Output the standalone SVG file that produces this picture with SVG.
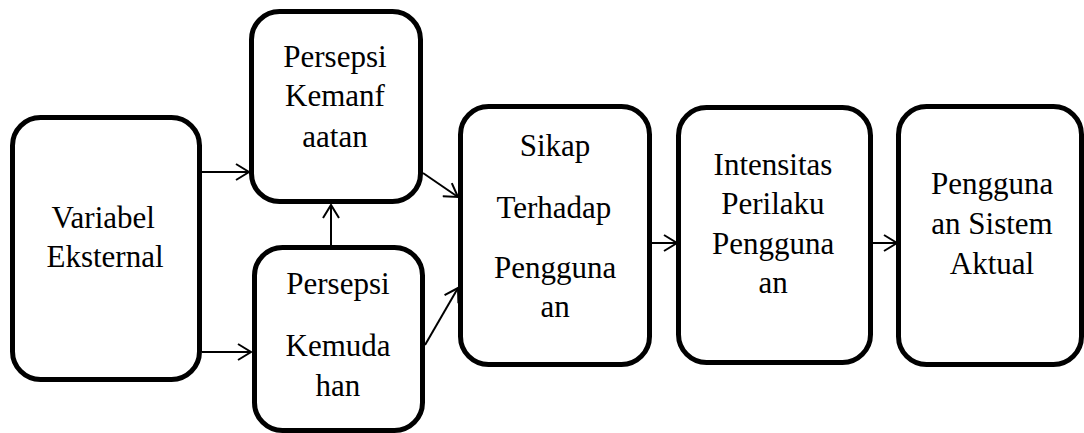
<svg xmlns="http://www.w3.org/2000/svg" width="1084" height="433" viewBox="0 0 1084 433">
<defs>
<marker id="ah" markerUnits="userSpaceOnUse" markerWidth="16" markerHeight="18" refX="14" refY="9" orient="auto">
<path d="M1,1 L14,9 L1,17" fill="none" stroke="#000" stroke-width="2"/>
</marker>
</defs>
<rect width="1084" height="433" fill="#fff"/>
<g id="connectors" stroke="#000" stroke-width="2" fill="none" marker-end="url(#ah)">
<line x1="202" y1="172" x2="249" y2="172"/>
<line x1="202" y1="352" x2="251" y2="352"/>
<line x1="331" y1="245" x2="331" y2="205"/>
<line x1="423" y1="173" x2="458" y2="197"/>
<line x1="425" y1="345" x2="458" y2="288"/>
<line x1="652" y1="243" x2="677" y2="243"/>
<line x1="873" y1="243" x2="897" y2="243"/>
</g>
<g id="n1">
<rect x="12.5" y="117.5" width="187" height="262" rx="28" fill="#fff" stroke="#000" stroke-width="5"/>
<text x="51.6" y="228" font-family="Liberation Serif" font-size="31">Variabel</text>
<text x="46.5" y="267" font-family="Liberation Serif" font-size="31">Eksternal</text>
</g>
<g id="n2">
<rect x="251.5" y="11.5" width="169" height="190" rx="28" fill="#fff" stroke="#000" stroke-width="5"/>
<text x="283.3" y="67" font-family="Liberation Serif" font-size="31">Persepsi</text>
<text x="285.1" y="106" font-family="Liberation Serif" font-size="31">Kemanf</text>
<text x="302.3" y="147" font-family="Liberation Serif" font-size="31">aatan</text>
</g>
<g id="n3">
<rect x="254.5" y="247.5" width="168" height="183" rx="28" fill="#fff" stroke="#000" stroke-width="5"/>
<text x="286.3" y="294" font-family="Liberation Serif" font-size="31">Persepsi</text>
<text x="285.5" y="356" font-family="Liberation Serif" font-size="31">Kemuda</text>
<text x="315.6" y="396" font-family="Liberation Serif" font-size="31">han</text>
</g>
<g id="n4">
<rect x="460.5" y="106.5" width="189" height="258" rx="28" fill="#fff" stroke="#000" stroke-width="5"/>
<text x="519.7" y="156" font-family="Liberation Serif" font-size="31">Sikap</text>
<text x="496.5" y="218" font-family="Liberation Serif" font-size="31">Terhadap</text>
<text x="493.9" y="278" font-family="Liberation Serif" font-size="31">Pengguna</text>
<text x="540.4" y="317" font-family="Liberation Serif" font-size="31">an</text>
</g>
<g id="n5">
<rect x="678.5" y="107.5" width="192" height="255" rx="28" fill="#fff" stroke="#000" stroke-width="5"/>
<text x="713.6" y="175" font-family="Liberation Serif" font-size="31">Intensitas</text>
<text x="721.3" y="214" font-family="Liberation Serif" font-size="31">Perilaku</text>
<text x="711.9" y="254" font-family="Liberation Serif" font-size="31">Pengguna</text>
<text x="758.4" y="293" font-family="Liberation Serif" font-size="31">an</text>
</g>
<g id="n6">
<rect x="898.5" y="106.5" width="183" height="258" rx="28" fill="#fff" stroke="#000" stroke-width="5"/>
<text x="930.9" y="194" font-family="Liberation Serif" font-size="31">Pengguna</text>
<text x="931.3" y="234" font-family="Liberation Serif" font-size="31">an Sistem</text>
<text x="949.8" y="274" font-family="Liberation Serif" font-size="31">Aktual</text>
</g>
</svg>
